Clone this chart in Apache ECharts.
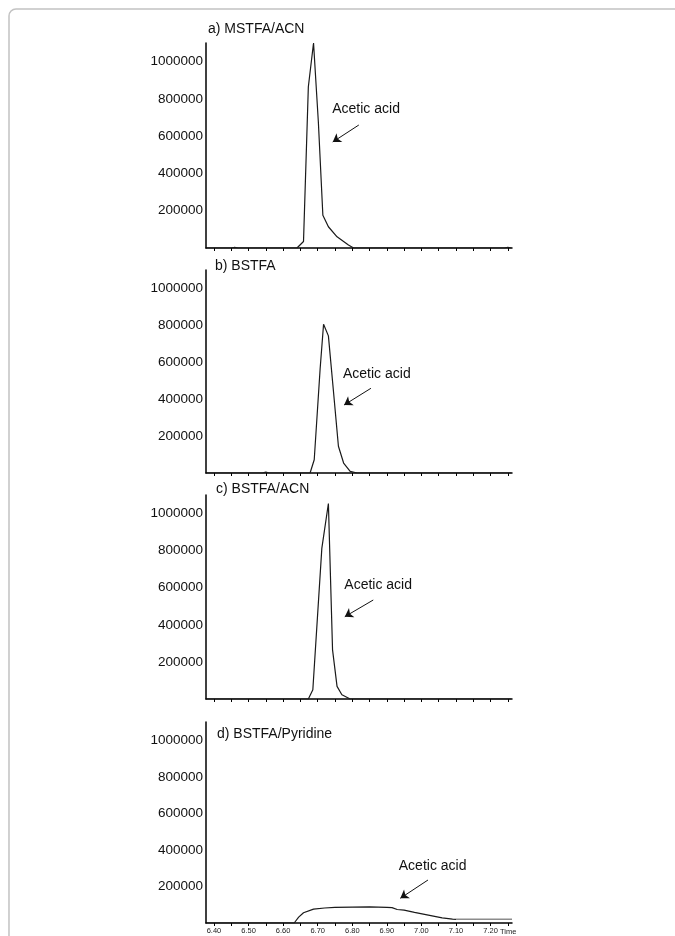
<!DOCTYPE html>
<html>
<head>
<meta charset="utf-8">
<script src="https://cdn.jsdelivr.net/npm/echarts@6/dist/echarts.min.js"></script>
<style>
html,body{margin:0;padding:0;background:#fff;}
#main{width:675px;height:936px;}
</style>
</head>
<body>
<div id="main"></div>
<script>
// ---- data (retention time in min, abundance) ----
const panelTitles = ['a) MSTFA/ACN', 'b) BSTFA', 'c) BSTFA/ACN', 'd) BSTFA/Pyridine'];

const timeA = [6.38, 6.45, 6.46, 6.47, 6.60, 6.640, 6.659, 6.673, 6.688, 6.702, 6.715, 6.731, 6.756, 6.789, 6.804, 7.00, 7.24, 7.25, 7.26];
const valA  = [0, 0, 3000, 0, 0, 0, 35000, 865000, 1100000, 675000, 176000, 114000, 60000, 16000, 0, 0, 0, 3000, 0];

const timeB = [6.38, 6.54, 6.55, 6.56, 6.678, 6.683, 6.690, 6.707, 6.717, 6.731, 6.746, 6.760, 6.775, 6.794, 6.814, 7.26];
const valB  = [0, 0, 5000, 0, 0, 3000, 72000, 562000, 806000, 743000, 435000, 145000, 54000, 9000, 0, 0];

const timeC = [6.38, 6.673, 6.686, 6.712, 6.731, 6.743, 6.756, 6.770, 6.794, 7.26];
const valC  = [0, 0, 50000, 812000, 1054000, 265000, 68000, 23000, 0, 0];

const timeD = [6.38, 6.632, 6.645, 6.659, 6.688, 6.72, 6.75, 6.80, 6.85, 6.90, 6.915, 6.93, 6.95, 6.98, 7.02, 7.06, 7.09, 7.10];
const valD  = [0, 0, 32000, 56000, 76000, 82000, 86000, 87000, 88000, 86000, 84000, 74000, 70000, 58000, 43000, 28000, 21000, 20000];
const timeDTail = [7.10, 7.262];
const valDTail  = [20000, 20000];

const xTickValues  = [6.40, 6.45, 6.50, 6.55, 6.60, 6.65, 6.70, 6.75, 6.80, 6.85, 6.90, 6.95, 7.00, 7.05, 7.10, 7.15, 7.20, 7.25];
const xLabelValues = [6.40, 6.50, 6.60, 6.70, 6.80, 6.90, 7.00, 7.10, 7.20];
const yLabelValues = [200000, 400000, 600000, 800000, 1000000];

// annotation anchors in data coordinates: text anchor, arrow tail, arrow head
const annText  = [[6.7435, 740500], [6.7746, 531000], [6.7784, 609300], [6.936, 308300]];
const annTail  = [[6.819, 660000], [6.854, 459000], [6.8607, 533800], [7.019, 235300]];
const annHead  = [[6.7435, 568800], [6.7764, 368500], [6.7784, 443800], [6.939, 135200]];
const annLabel = 'Acetic acid';

// ---- layout ----
const FONT = '"Liberation Sans", Arial, sans-serif';
const gridBoxes = [
  {top: 43, height: 205},
  {top: 270, height: 203},
  {top: 495, height: 204},
  {top: 722, height: 201}
];
const titlePos = [[208, 22], [215, 259], [216, 482], [217, 727]];

const zip = (t, v) => t.map((x, i) => [x, v[i]]);
const seriesData = [zip(timeA, valA), zip(timeB, valB), zip(timeC, valC), zip(timeD, valD)];

const grids = [], xAxes = [], yAxes = [], series = [], titles = [];
gridBoxes.forEach((g, i) => {
  grids.push({left: 206, width: 306, top: g.top, height: g.height, outerBoundsMode: 'none', containLabel: false});
  titles.push({
    text: panelTitles[i], left: titlePos[i][0], top: titlePos[i][1], padding: 0,
    textStyle: {fontFamily: FONT, fontSize: 14, fontWeight: 'normal', color: '#111'}
  });
  xAxes.push({
    type: 'value', gridIndex: i, min: 6.377, max: 7.262,
    axisLine: {show: true, onZero: false, lineStyle: {color: '#000', width: 1.5}},
    axisTick: {show: true, customValues: xTickValues, length: 3, inside: false, lineStyle: {color: '#000', width: 1}},
    axisLabel: {
      show: i === 3, customValues: xLabelValues, margin: 4,
      fontFamily: FONT, fontSize: 7.5, color: '#222',
      formatter: v => v.toFixed(2)
    },
    splitLine: {show: false}
  });
  yAxes.push({
    type: 'value', gridIndex: i, min: 0, max: 1100000,
    axisLine: {show: true, onZero: false, lineStyle: {color: '#000', width: 1.5}},
    axisTick: {show: false},
    axisLabel: {
      show: true, customValues: yLabelValues, margin: 3,
      fontFamily: FONT, fontSize: 13.5, color: '#111',
      formatter: v => String(v)
    },
    splitLine: {show: false}
  });
  series.push({
    type: 'line', xAxisIndex: i, yAxisIndex: i, data: seriesData[i],
    showSymbol: false, symbol: 'none', smooth: false,
    lineStyle: {color: '#1a1a1a', width: 1.2},
    z: 3,
    markPoint: {
      silent: true, animation: false,
      symbol: 'circle', symbolSize: 1,
      itemStyle: {color: 'rgba(0,0,0,0)'},
      label: {
        show: true, position: [0, 0], align: 'left', verticalAlign: 'middle',
        formatter: annLabel, fontFamily: FONT, fontSize: 14, color: '#111'
      },
      data: [{coord: annText[i]}]
    },
    markLine: {
      silent: true, animation: false,
      symbol: ['none', 'arrow'], symbolSize: 8,
      itemStyle: {color: '#111'},
      lineStyle: {color: '#111', width: 1, type: 'solid'},
      label: {show: false},
      emphasis: {disabled: true},
      data: [[{coord: annTail[i]}, {coord: annHead[i]}]]
    }
  });
});
series.push({
  type: 'line', xAxisIndex: 3, yAxisIndex: 3, data: zip(timeDTail, valDTail),
  showSymbol: false, symbol: 'none',
  lineStyle: {color: '#8c8c8c', width: 1.5}, z: 3
});

const chart = echarts.init(document.getElementById('main'), null, {renderer: 'canvas'});
chart.setOption({
  backgroundColor: '#fff',
  animation: false,
  title: titles,
  grid: grids,
  xAxis: xAxes,
  yAxis: yAxes,
  series: series,
  graphic: [
    {
      type: 'rect', silent: true, z: -1,
      shape: {x: 9, y: 9, width: 700, height: 1000, r: 7},
      style: {fill: 'none', stroke: '#c2c2c2', lineWidth: 1.5}
    },
    {
      type: 'text', silent: true, left: 500, top: 928,
      style: {text: 'Time', fontFamily: FONT, fontSize: 7.5, fill: '#222'}
    }
  ]
});
</script>
</body>
</html>
